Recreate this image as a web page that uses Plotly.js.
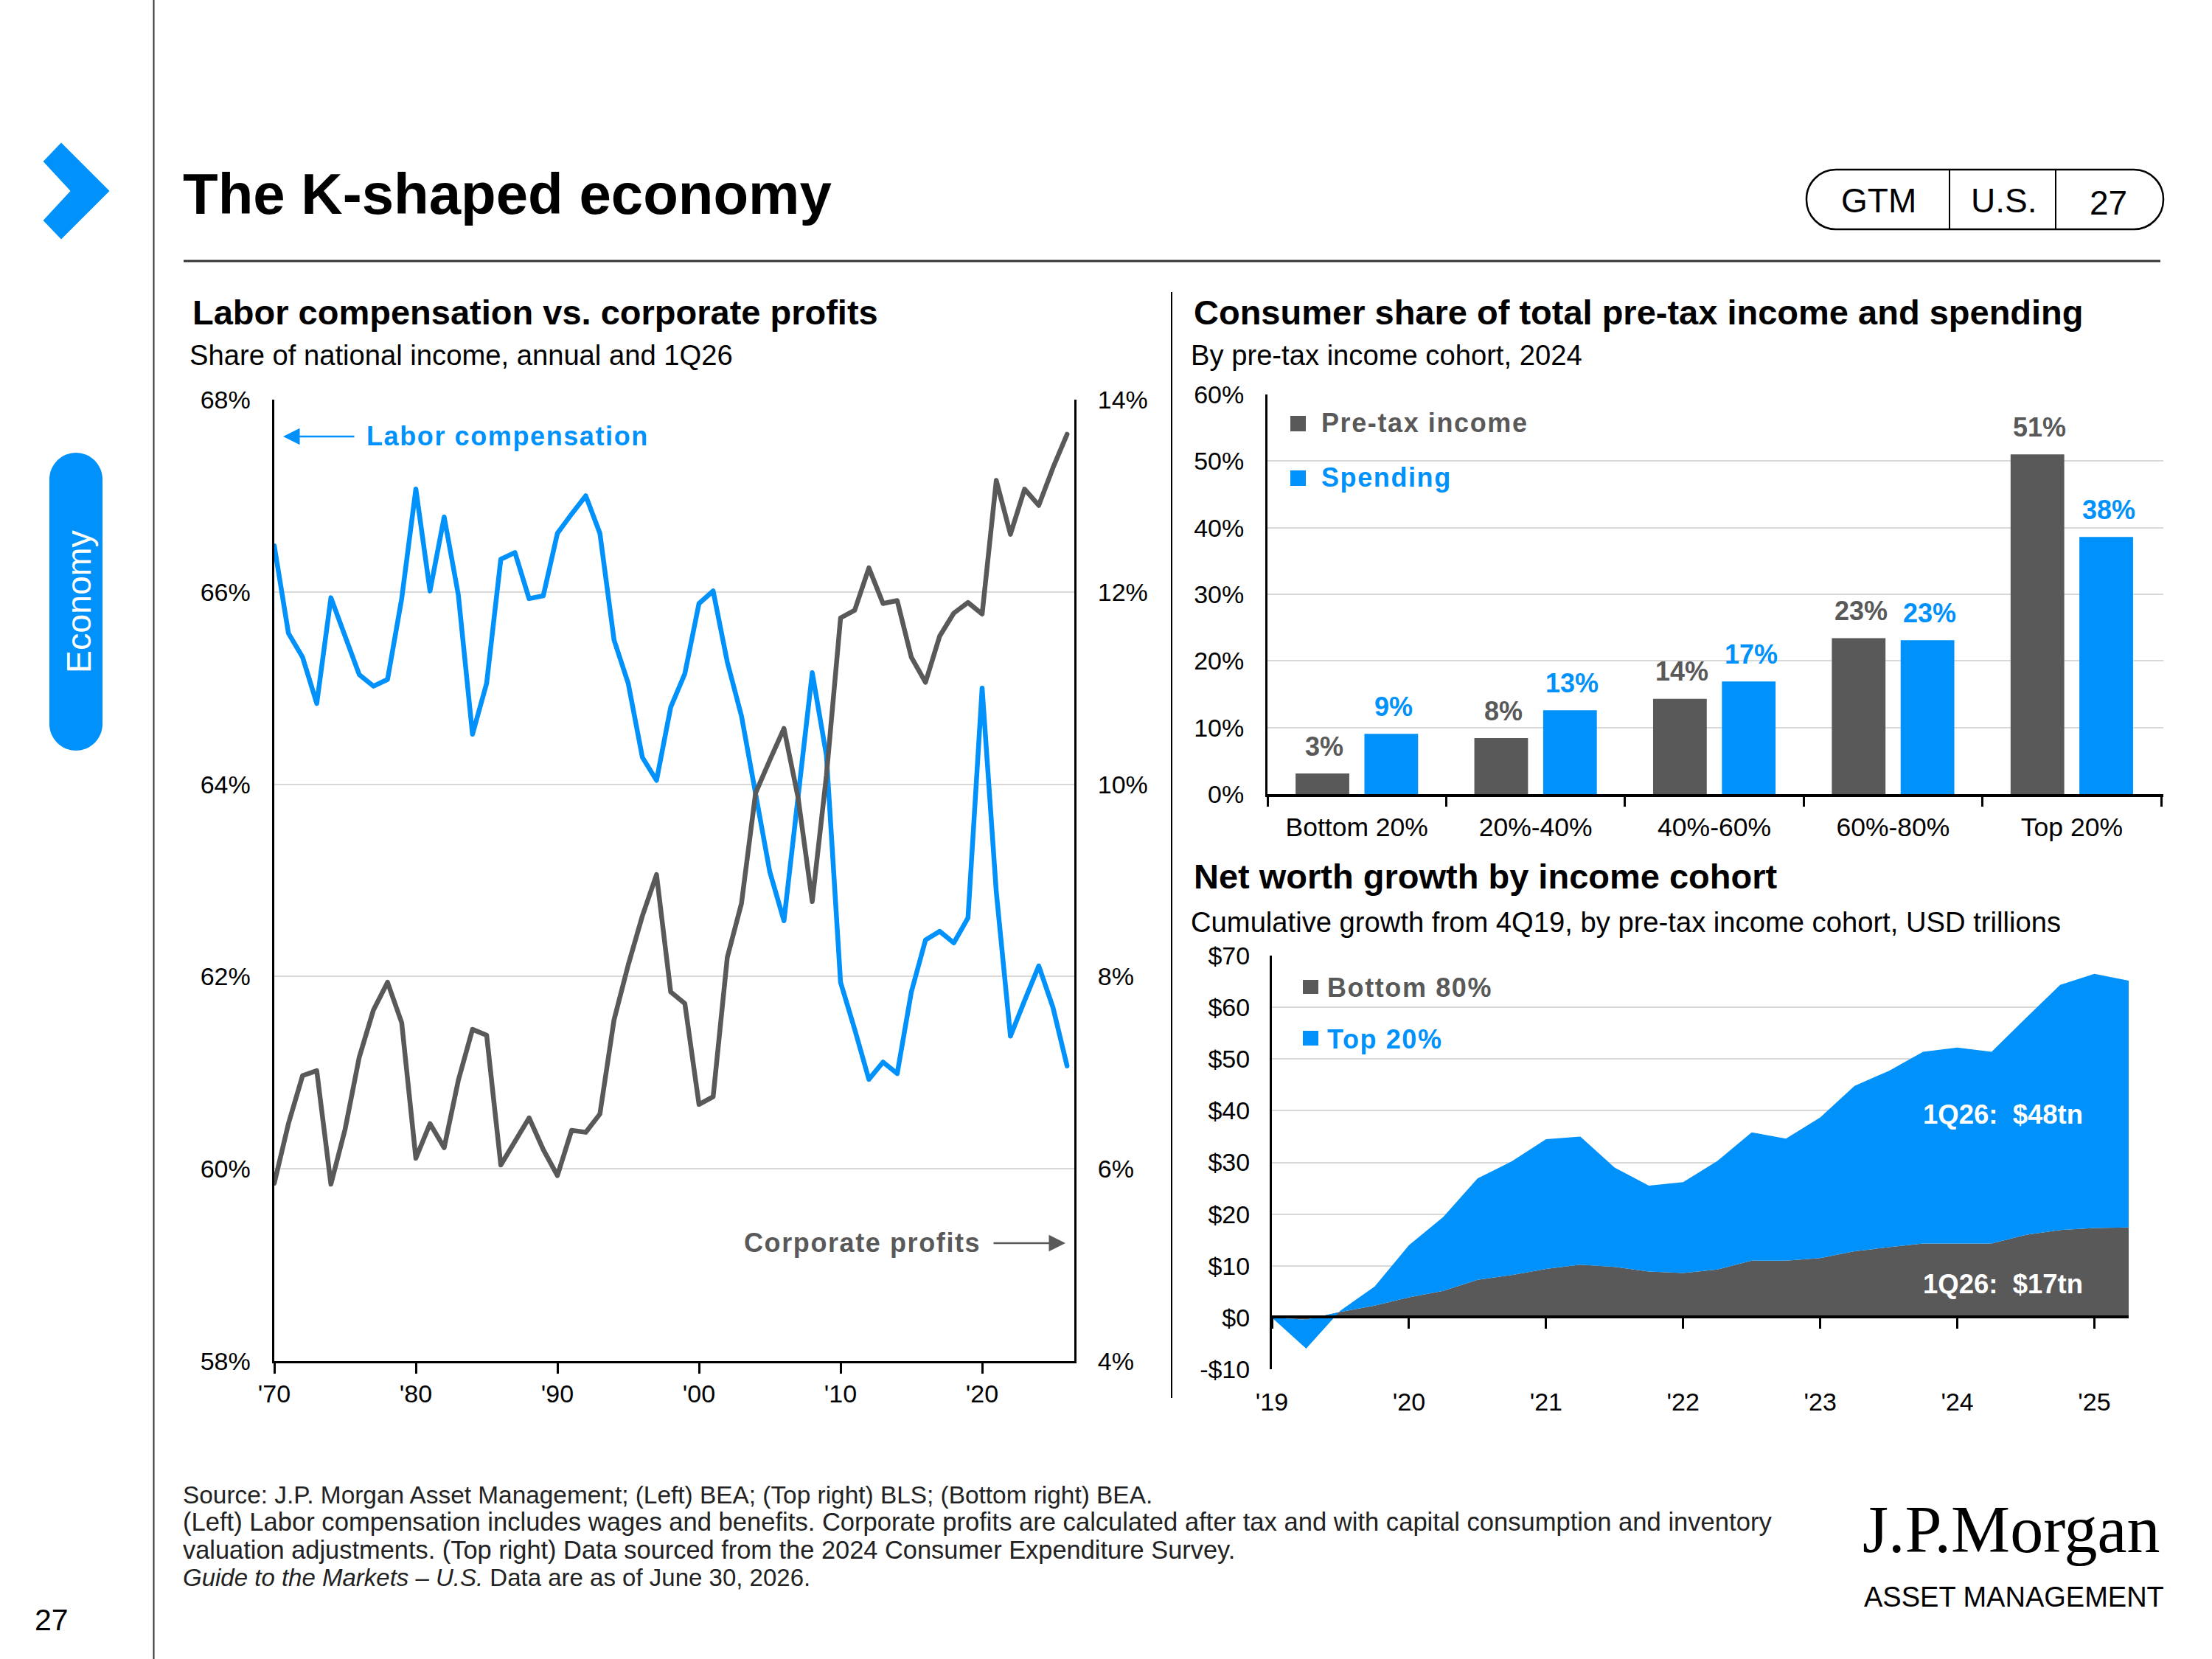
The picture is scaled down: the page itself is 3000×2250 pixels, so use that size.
<!DOCTYPE html>
<html><head><meta charset="utf-8">
<script src="https://cdn.plot.ly/plotly-3.0.1.min.js"></script>
<style>html,body{margin:0;padding:0;background:#fff}#c{width:3000px;height:2250px}
.js-line{stroke-linejoin:round;stroke-linecap:round}</style></head>
<body><div id="c"></div>
<script>
// ---- data ----
const years = [];
for (let y = 1970; y <= 2026; y++) years.push(y);
const laborCompensation = [66.48,65.57,65.32,64.84,65.94,65.54,65.14,65.02,65.09,65.93,
  67.07,66.01,66.78,65.97,64.52,65.05,66.34,66.41,65.93,65.96,
  66.61,66.81,67.0,66.61,65.5,65.05,64.28,64.04,64.8,65.15,
  65.88,66.01,65.27,64.71,63.89,63.09,62.58,63.86,65.16,64.3,
  61.94,61.45,60.93,61.11,60.99,61.84,62.38,62.47,62.35,62.61,
  65.0,62.88,61.38,61.75,62.11,61.68,61.07];
const corporateProfits = [5.85,6.47,6.97,7.02,5.84,6.41,7.16,7.65,7.94,7.52,
  6.11,6.47,6.22,6.92,7.45,7.39,6.04,6.29,6.53,6.2,
  5.93,6.4,6.38,6.57,7.55,8.12,8.63,9.06,7.84,7.72,
  6.67,6.75,8.2,8.76,9.91,10.25,10.58,9.86,8.78,10.09,
  11.73,11.81,12.25,11.88,11.91,11.32,11.06,11.54,11.78,11.89,
  11.77,13.16,12.6,13.07,12.9,13.29,13.64];
const decadeTicks = [1970,1980,1990,2000,2010,2020];
const decadeLabels = ["'70","'80","'90","'00","'10","'20"];

const cohorts = ['Bottom 20%','20%-40%','40%-60%','60%-80%','Top 20%'];
const pretaxIncome = [3.1,8.4,14.3,23.4,51.0];
const spending = [9.05,12.6,16.9,23.1,38.6];
const pretaxLabels = ['3%','8%','14%','23%','51%'];
const spendingLabels = ['9%','13%','17%','23%','38%'];

const quarters = [];
for (let i = 0; i <= 25; i++) quarters.push(i);
const bottom80 = [0,-0.4,1.1,2.3,3.9,5.15,7.3,8.2,9.4,10.2,9.8,8.9,8.6,9.3,11,11,11.5,12.8,13.6,14.3,14.3,14.3,16,16.9,17.3,17.4];
const top20 = [0,-5.6,0.25,3.7,10.1,14.3,19.6,22,25.1,24.8,19.2,16.6,17.6,21,24.8,23.6,27.2,32,34.1,37.1,37.9,37.1,41.9,47.44,49.16,47.74];
const yearTicks = [0,4,8,12,16,20,24];
const yearLabels = ["'19","'20","'21","'22","'23","'24","'25"];
const dollarTicks = [-10,0,10,20,30,40,50,60,70];
const dollarLabels = ['-$10','$0','$10','$20','$30','$40','$50','$60','$70'];

// ---- style ----
const BLUE = '#0091FB', GRAY = '#595959', GRID = '#D9D9D9', FONT = '"Liberation Sans", Arial, sans-serif';
const W = 3000, H = 2250;
const fx = x => x / W, fy = y => 1 - y / H;

function T(text, x, y, size, color, o) {
  o = o || {};
  return Object.assign({text, x: fx(x), y: fy(y), xref:'paper', yref:'paper', showarrow:false,
    xanchor:o.xa || 'left', yanchor:'middle', font:{family:o.family || FONT, size, color},
    align:o.xa === 'center' ? 'center' : 'left', borderpad:0}, o.extra || {});
}
const B = s => '<b>' + s + '</b>';
const LS = s => '<span style="letter-spacing:1.6px"><b>' + s + '</b></span>';
function R(x0,y0,x1,y1,color){return {type:'rect',xref:'paper',yref:'paper',x0:fx(x0),x1:fx(x1),y0:fy(y0),y1:fy(y1),fillcolor:color,line:{width:0}};}
function L(x0,y0,x1,y1,color,w){return {type:'line',xref:'paper',yref:'paper',x0:fx(x0),x1:fx(x1),y0:fy(y0),y1:fy(y1),line:{color,width:w}};}
function RR(x0,y0,x1,y1,r,fill,lc,lw){
  const P=(x,y)=>fx(x)+','+fy(y);
  const k=0.45*r;
  const path='M'+P(x0+r,y0)+' L'+P(x1-r,y0)+' C'+P(x1-k,y0)+' '+P(x1,y0+k)+' '+P(x1,y0+r)+
   ' L'+P(x1,y1-r)+' C'+P(x1,y1-k)+' '+P(x1-k,y1)+' '+P(x1-r,y1)+
   ' L'+P(x0+r,y1)+' C'+P(x0+k,y1)+' '+P(x0,y1-k)+' '+P(x0,y1-r)+
   ' L'+P(x0,y0+r)+' C'+P(x0,y0+k)+' '+P(x0+k,y0)+' '+P(x0+r,y0)+' Z';
  return {type:'path',xref:'paper',yref:'paper',path,fillcolor:fill,line:{color:lc||fill,width:lw||0}};
}
const chev=[[83,197],[145,259],[83,321],[62,299],[99,259],[62,219]];
const chevPath='M'+chev.map(p=>fx(p[0])+','+fy(p[1])).join(' L')+' Z';

const traces = [
  {x:years,y:laborCompensation,xaxis:'x',yaxis:'y',mode:'lines',name:'Labor compensation',line:{color:BLUE,width:6.5},cliponaxis:false},
  {x:years,y:corporateProfits,xaxis:'x',yaxis:'y2',mode:'lines',name:'Corporate profits',line:{color:GRAY,width:6.5},cliponaxis:false},
  {x:cohorts,y:pretaxIncome,xaxis:'x2',yaxis:'y3',type:'bar',name:'Pre-tax income',marker:{color:GRAY}},
  {x:cohorts,y:spending,xaxis:'x2',yaxis:'y3',type:'bar',name:'Spending',marker:{color:BLUE}},
  {x:quarters,y:bottom80,xaxis:'x3',yaxis:'y4',mode:'lines',stackgroup:'nw',name:'Bottom 80%',line:{width:0,color:GRAY},fillcolor:GRAY},
  {x:quarters,y:top20,xaxis:'x3',yaxis:'y4',mode:'lines',stackgroup:'nw',name:'Top 20%',line:{width:0,color:BLUE},fillcolor:BLUE}
];

const tickFont = {family:FONT,size:34,color:'#000'};
const barTickFont = {family:FONT,size:35.5,color:'#000'};
const L1 = {x0:372,x1:1457,y0:542,y1:1846};
const L2 = {x0:1719,x1:2934,y0:535,y1:1077};
const L3 = {x0:1725,x1:2887,y0:1296,y1:1857};
const dom = (a,b,s) => [a/s,b/s];
const vdom = (top,bot) => [1-bot/H,1-top/H];

const anns = [
  T(B('The K-shaped economy'),247,263,78,'#000'),
  T(B('Labor compensation vs. corporate profits'),260,424,47,'#000'),
  T('Share of national income, annual and 1Q26',256,481,38.2,'#000'),
  T(B('Consumer share of total pre-tax income and spending'),1618,424,47,'#000'),
  T('By pre-tax income cohort, 2024',1614,481,38.2,'#000'),
  T(B('Net worth growth by income cohort'),1618,1188,47,'#000'),
  T('Cumulative growth from 4Q19, by pre-tax income cohort, USD trillions',1614,1250,38.2,'#000'),
  T('GTM',2548,272,46,'#000',{xa:'center'}),
  T('U.S.',2717,272,46,'#000',{xa:'center'}),
  T('27',2859,275,46,'#000',{xa:'center'}),
  T('Economy',107,816,46.5,'#fff',{xa:'center',extra:{textangle:-90}}),
  T('27',70,2197,41,'#000',{xa:'center'}),
  T(LS('Labor compensation'),496,592,36,BLUE),
  T(LS('Corporate profits'),1008,1685,36,GRAY),
  T(LS('Pre-tax income'),1791,574,36,GRAY),
  T(LS('Spending'),1791,647,36,BLUE),
  T(LS('Bottom 80%'),1799,1339,36,GRAY),
  T(LS('Top 20%'),1799,1409,36,BLUE),
  T(B('1Q26:  $48tn'),2607,1511,36.5,'#fff'),
  T(B('1Q26:  $17tn'),2607,1741,36.5,'#fff'),
  T('Source: J.P. Morgan Asset Management; (Left) BEA; (Top right) BLS; (Bottom right) BEA.',247,2027,33.4,'#222'),
  T('(Left) Labor compensation includes wages and benefits. Corporate profits are calculated after tax and with capital consumption and inventory',247,2064,34.6,'#222'),
  T('valuation adjustments. (Top right) Data sourced from the 2024 Consumer Expenditure Survey.',247,2102,34.4,'#222'),
  T('<i>Guide to the Markets – U.S.</i> Data are as of June 30, 2026.',247,2139,33,'#222'),
  T('J.P.Morgan',2525,2074,90,'#000',{family:'"Liberation Serif", serif'}),
  T('ASSET MANAGEMENT',2527,2166,38,'#000')
];
// arrows
const arrow = (tipX,tipY,tailDx,color) => ({x:fx(tipX),y:fy(tipY),xref:'paper',yref:'paper',text:'',showarrow:true,
  ax:tailDx,ay:0,axref:'pixel',ayref:'pixel',arrowhead:2,arrowsize:1.8,arrowwidth:2.5,arrowcolor:color,standoff:0,startstandoff:0});
anns.push(arrow(384,592,98,BLUE), arrow(1445,1686,-99,GRAY));
// bar labels
pretaxLabels.forEach((t,i)=>anns.push({text:B(t),x:i-0.193,y:pretaxIncome[i],xref:'x2',yref:'y3',showarrow:false,yanchor:'middle',yshift:37,xshift:3,font:{family:FONT,size:36,color:GRAY}}));
spendingLabels.forEach((t,i)=>anns.push({text:B(t),x:i+0.193,y:spending[i],xref:'x2',yref:'y3',showarrow:false,yanchor:'middle',yshift:37,xshift:3,font:{family:FONT,size:36,color:BLUE}}));

const shapes = [
  L(208.5,0,208.5,2250,'#333',2),
  {type:'path',xref:'paper',yref:'paper',path:chevPath,fillcolor:BLUE,line:{color:BLUE,width:5}},
  RR(67,614,139,1018,36,BLUE),
  L(249,354,2930,354,'#333',3),
  L(1589,396,1589,1896,'#000',2),
  RR(2450,230,2934,311,40,'rgba(0,0,0,0)','#000',2.5),
  L(2644,230,2644,311,'#000',2),
  L(2788,230,2788,311,'#000',2),
  R(1750,564,1771,585,GRAY),
  R(1750,638,1771,659,BLUE),
  R(1767,1329,1788,1348,GRAY),
  R(1767,1398,1788,1418,BLUE)
];

const layout = {
  width:W,height:H,margin:{l:0,r:0,t:0,b:0},paper_bgcolor:'#fff',plot_bgcolor:'rgba(0,0,0,0)',
  showlegend:false,hovermode:false,font:{family:FONT,size:34,color:'#000'},
  barmode:'group',bargap:0.23,bargroupgap:0.22,
  xaxis:{domain:dom(L1.x0,L1.x1,W),range:[1970,2026.51],tickvals:decadeTicks,ticktext:decadeLabels,
    showgrid:false,zeroline:false,showline:true,linecolor:'#000',linewidth:3,ticks:'outside',ticklen:14,tickwidth:3,tickcolor:'#000',
    tickfont:tickFont,tickangle:0,anchor:'y',ticklabelstandoff:-2},
  yaxis:{domain:vdom(L1.y0,L1.y1),range:[58,68],dtick:2,ticksuffix:'%',gridcolor:GRID,gridwidth:2,zeroline:false,
    showline:true,linecolor:'#000',linewidth:3.5,ticks:'',tickfont:tickFont,anchor:'x',ticklabelstandoff:22},
  yaxis2:{domain:vdom(L1.y0,L1.y1),range:[4,14],dtick:2,ticksuffix:'%',overlaying:'y',side:'right',showgrid:false,zeroline:false,
    showline:true,linecolor:'#000',linewidth:3,ticks:'',tickfont:tickFont,anchor:'x',ticklabelstandoff:22},
  xaxis2:{domain:dom(L2.x0,L2.x1,W),type:'category',range:[-0.5,4.512],tickson:'boundaries',showgrid:false,zeroline:false,
    showline:true,linecolor:'#000',linewidth:4,ticks:'outside',ticklen:13,tickwidth:3,tickcolor:'#000',tickfont:barTickFont,tickangle:0,anchor:'y3',ticklabelstandoff:10},
  yaxis3:{domain:vdom(L2.y0,L2.y1),range:[0,60],dtick:10,ticksuffix:'%',gridcolor:GRID,gridwidth:2,zeroline:false,
    showline:true,linecolor:'#000',linewidth:3,ticks:'',tickfont:tickFont,anchor:'x2',ticklabelstandoff:22},
  xaxis3:{domain:dom(L3.x0,L3.x1,W),range:[0,25],tickvals:yearTicks,ticktext:yearLabels,showgrid:false,zeroline:false,
    anchor:'free',position:1-1786/H,
    showline:true,linecolor:'#000',linewidth:4,ticks:'outside',ticklen:14,tickwidth:3,tickcolor:'#000',tickfont:tickFont,tickangle:0,ticklabelstandoff:70},
  yaxis4:{domain:vdom(L3.y0,L3.y1),range:[-10,70],tickvals:dollarTicks,ticktext:dollarLabels,gridcolor:GRID,gridwidth:2,zeroline:false,
    showline:true,linecolor:'#000',linewidth:3,ticks:'',tickfont:tickFont,anchor:'x3',ticklabelstandoff:20},
  annotations:anns,shapes:shapes
};
Plotly.newPlot('c',traces,layout,{displayModeBar:false,staticPlot:true});
</script></body></html>
